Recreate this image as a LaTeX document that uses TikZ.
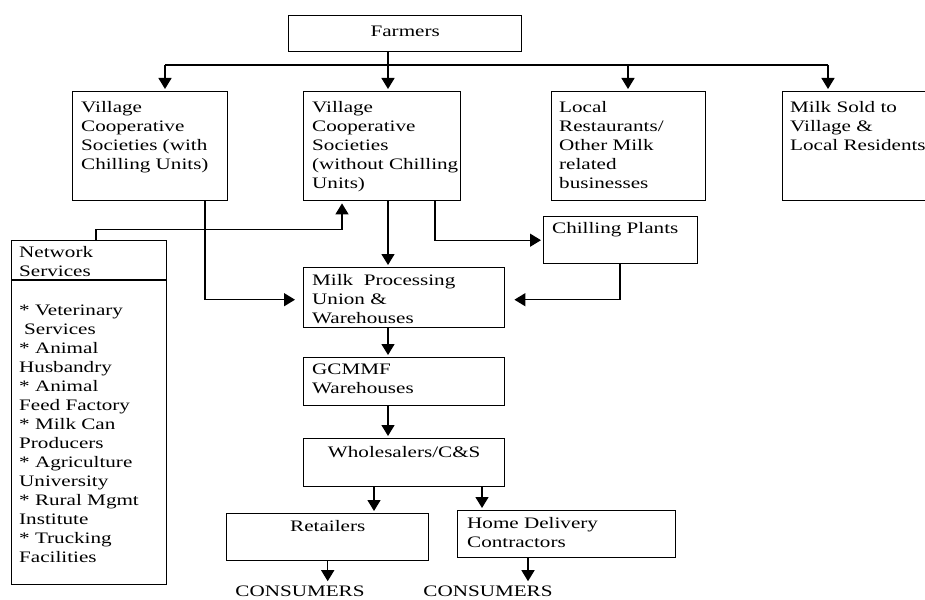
\documentclass[tikz,border=0pt]{standalone}
\usepackage{fontspec}
\setmainfont{Liberation Serif}[FakeStretch=1.32]
\usetikzlibrary{positioning, calc, arrows.meta}

\tikzset{
  blk/.style={draw, line width=1.4pt, anchor=north west, inner sep=0pt},
  txt/.style={anchor=north west, align=left, inner sep=0pt, font=\fontsize{16}{19}\selectfont},
  arr/.style={line width=1.4pt, shorten >=2pt, -{Triangle[width=13pt,length=11pt]}},
  lnk/.style={line width=1.4pt},
}

\begin{document}
\begin{tikzpicture}[x=1pt, y=-1pt]
\useasboundingbox (0,0) rectangle (925,599);

% boxes
\node[blk, minimum width=233, minimum height=36] (farm) at (288,15) {};
\node[blk, minimum width=155, minimum height=109] (vcsA) at (72,91) {};
\node[blk, minimum width=157, minimum height=109] (vcsB) at (303,91) {};
\node[blk, minimum width=154, minimum height=109] (shop) at (551,91) {};
\node[blk, minimum width=150, minimum height=109] (resid) at (782,91) {};
\node[blk, minimum width=154, minimum height=47] (chill) at (543,216) {};
\node[blk, minimum width=155, minimum height=344] (netS) at (11,240) {};
\node[blk, minimum width=201, minimum height=60] (mpu) at (303,267) {};
\node[blk, minimum width=201, minimum height=48] (gcm) at (303,357) {};
\node[blk, minimum width=201, minimum height=48] (whole) at (303,438) {};
\node[blk, minimum width=202, minimum height=47] (retail) at (226,513) {};
\node[blk, minimum width=218, minimum height=47] (home) at (457,510) {};
\draw[lnk] ($(netS.north west)+(0,40)$) -- ($(netS.north east)+(0,40)$);

% texts
\node[txt, anchor=base] (farmT) at ($(farm.north)+(0,22)$) {Farmers};
\node[txt] (vcsAT) at ($(vcsA.north west)+(9,10)$) {Village\\Cooperative\\Societies (with\\Chilling Units)};
\node[txt] (vcsBT) at ($(vcsB.north west)+(9,10)$) {Village\\Cooperative\\Societies\\(without Chilling\\Units)};
\node[txt] (shopT) at ($(shop.north west)+(8,10)$) {Local\\Restaurants/\\Other Milk\\related\\businesses};
\node[txt] (residT) at ($(resid.north west)+(8,10)$) {Milk Sold to\\Village \&\\Local Residents};
\node[txt, anchor=base west] (chillT) at ($(chill.north west)+(9,17)$) {Chilling Plants};
\node[txt] (netST) at ($(netS.north west)+(8,6)$) {Network\\Services};
\node[txt] (netSL) at ($(netS.north west)+(8,65)$) {* Veterinary\\\hspace*{5pt}Services\\* Animal\\Husbandry\\* Animal\\Feed Factory\\* Milk Can\\Producers\\* Agriculture\\University\\* Rural Mgmt\\Institute\\* Trucking\\Facilities};
\node[txt] (mpuT) at ($(mpu.north west)+(9,7)$) {Milk\ \ Processing\\Union \&\\Warehouses};
\node[txt] (gcmT) at ($(gcm.north west)+(9,7)$) {GCMMF\\Warehouses};
\node[txt, anchor=base] (wholeT) at ($(whole.north)+(0,19)$) {Wholesalers/C\&S};
\node[txt, anchor=base] (retailT) at ($(retail.north)+(0,18)$) {Retailers};
\node[txt] (homeT) at ($(home.north west)+(10,7)$) {Home Delivery\\Contractors};
\node[txt, anchor=base] (consA) at (300,596) {CONSUMERS};
\node[txt, anchor=base] (consB) at (488,596) {CONSUMERS};

% connectors
\coordinate (busL) at (165,65);
\coordinate (busR) at (828,65);
\coordinate (farmOut) at ($(farm.south west)+(100,0)$);
\coordinate (shopIn) at ($(shop.north west)+(77,-26)$);
\coordinate (spine) at ($(vcsB.south west)+(85,0)$);
\coordinate (retailIn) at ($(whole.south west)+(71,0)$);
\coordinate (homeIn) at ($(whole.south west)+(179,0)$);
\coordinate (homeOut) at ($(home.south west)+(71,0)$);
\draw[lnk] (busL) -- (busR);
\draw[arr] (farmOut) -- (farmOut |- vcsB.north);
\draw[arr] (busL) -- (busL |- vcsA.north);
\draw[arr] (shopIn) -- (shopIn |- shop.north);
\draw[arr] (busR) -- (busR |- resid.north);
\draw[arr] ($(netS.north west)+(85,0)$) |- ($(vcsB.south west)+(39,28)$) -- ($(vcsB.south west)+(39,0)$);
\draw[arr, shorten >=8pt] ($(vcsA.south west)+(133,0)$) |- ($(mpu.west)+(0,2)$);
\draw[arr] (spine) -- (spine |- mpu.north);
\draw[arr] ($(vcsB.south west)+(132,0)$) |- (chill.west);
\draw[arr, shorten >=9pt] ($(chill.south west)+(77,0)$) |- ($(mpu.east)+(0,2)$);
\draw[arr] (spine |- mpu.south) -- (spine |- gcm.north);
\draw[arr] (spine |- gcm.south) -- (spine |- whole.north);
\draw[arr] (retailIn) -- (retailIn |- retail.north);
\draw[arr] (homeIn) -- (homeIn |- home.north);
\draw[arr, shorten >=4pt] (retail.south) -- (retail.south |- consA.north);
\draw[arr, shorten >=4pt] (homeOut) -- (homeOut |- consB.north);
\end{tikzpicture}
\end{document}
